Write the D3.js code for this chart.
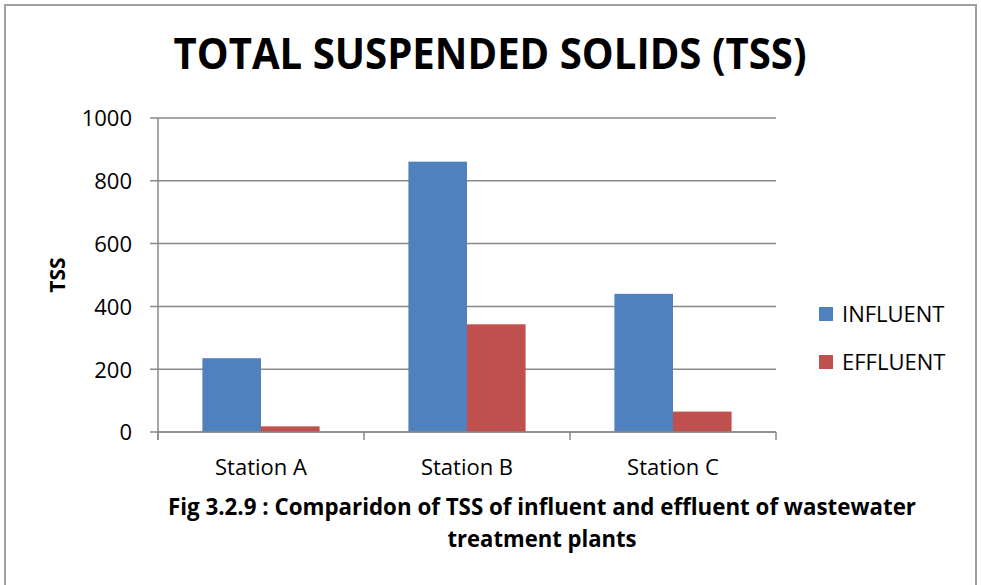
<!DOCTYPE html>
<html lang="en">
<head>
<meta charset="UTF-8">
<title>Total Suspended Solids (TSS)</title>
<script src="https://d3js.org/d3.v7.min.js"></script>
<style>
  body { margin: 0; background: #fff; }
  svg text { font-family: "Open Sans", sans-serif; fill: #000; }
</style>
</head>
<body>
<svg width="981" height="585"></svg>
<script>
// data
const stations = ["Station A", "Station B", "Station C"];
const seriesNames = ["INFLUENT", "EFFLUENT"];
const influent = [235, 861, 440];
const effluent = [18, 343, 65];
const yTicks = [0, 200, 400, 600, 800, 1000];
const colors = ["#4F81BD", "#C0504D"];

const svg = d3.select("svg");
const axisGrey = "#898989";

// outer frame
svg.append("rect")
    .attr("x", 5).attr("y", 5)
    .attr("width", 971).attr("height", 585)
    .attr("fill", "none")
    .attr("stroke", "#a0a0a0")
    .attr("stroke-width", 2);

// scales
const x = d3.scaleBand().domain(stations).range([158, 776]);
const xs = d3.scaleBand().domain(seriesNames).range([0, x.bandwidth()]).paddingOuter(0.758);
const y = d3.scaleLinear().domain([0, 1000]).range([432, 118]);

// gridlines
svg.append("g")
    .selectAll("line")
    .data(yTicks)
    .enter()
    .append("line")
    .attr("x1", 150).attr("x2", 776)
    .attr("y1", d => y(d)).attr("y2", d => y(d))
    .attr("stroke", axisGrey)
    .attr("stroke-width", 1.5);

// y axis
const yAxis = svg.append("g")
    .attr("transform", "translate(158,0)")
    .call(d3.axisLeft(y).tickValues(yTicks).tickFormat(d3.format("d")).tickSize(8).tickPadding(18));
yAxis.select(".domain").remove();
yAxis.selectAll("line").remove();
yAxis.selectAll("text")
    .style("font-size", "22px")
    .attr("dy", "0.36em");

svg.append("line")
    .attr("x1", 158).attr("x2", 158)
    .attr("y1", y(1000)).attr("y2", 440)
    .attr("stroke", axisGrey).attr("stroke-width", 1.5);

// bars
const data = stations.map((s, i) => ({ station: s, values: [influent[i], effluent[i]] }));
const groups = svg.append("g")
    .selectAll("g")
    .data(data)
    .enter()
    .append("g")
    .attr("transform", d => "translate(" + x(d.station) + ",0)");

groups.selectAll("rect")
    .data(d => d.values.map((v, j) => ({ key: seriesNames[j], value: v, j: j })))
    .enter()
    .append("rect")
    .attr("x", d => xs(d.key))
    .attr("width", xs.bandwidth())
    .attr("y", d => y(d.value))
    .attr("height", d => y(0) - y(d.value))
    .attr("fill", d => colors[d.j]);

// x axis line and boundary ticks
svg.append("line")
    .attr("x1", 158).attr("x2", 776)
    .attr("y1", y(0)).attr("y2", y(0))
    .attr("stroke", axisGrey).attr("stroke-width", 1.5);

const bounds = stations.map(s => x(s)).concat([x(stations[2]) + x.bandwidth()]);
svg.append("g")
    .selectAll("line")
    .data(bounds)
    .enter()
    .append("line")
    .attr("x1", d => d).attr("x2", d => d)
    .attr("y1", y(0)).attr("y2", 440)
    .attr("stroke", axisGrey).attr("stroke-width", 1.5);

// station labels
svg.append("g")
    .selectAll("text")
    .data(stations)
    .enter()
    .append("text")
    .attr("x", d => x(d) + x.bandwidth() / 2)
    .attr("y", 475)
    .attr("text-anchor", "middle")
    .style("font-size", "22px")
    .text(d => d);

// y axis title
svg.append("text")
    .attr("transform", "translate(65,275) rotate(-90)")
    .attr("text-anchor", "middle")
    .style("font-size", "21px")
    .style("font-weight", "bold")
    .text("TSS");

// chart title
svg.append("text")
    .attr("x", 490)
    .attr("y", 69)
    .attr("text-anchor", "middle")
    .attr("textLength", 633)
    .attr("lengthAdjust", "spacingAndGlyphs")
    .style("font-size", "43px")
    .style("font-weight", "bold")
    .text("TOTAL SUSPENDED SOLIDS (TSS)");

// legend
const legend = svg.append("g")
    .selectAll("g")
    .data(seriesNames)
    .enter()
    .append("g")
    .attr("transform", (d, i) => "translate(819," + (307 + i * 48) + ")");

legend.append("rect")
    .attr("width", 14).attr("height", 14)
    .attr("fill", (d, i) => colors[i]);

legend.append("text")
    .attr("x", 23)
    .attr("y", 15)
    .style("font-size", "22px")
    .text(d => d);

// caption
const caption = [
    "Fig 3.2.9 : Comparidon of TSS of influent and effluent of wastewater",
    "treatment plants"
];
svg.append("g")
    .selectAll("text")
    .data(caption)
    .enter()
    .append("text")
    .attr("x", 542)
    .attr("y", (d, i) => 515 + i * 32)
    .attr("text-anchor", "middle")
    .attr("textLength", (d, i) => i == 0 ? 748 : 189)
    .attr("lengthAdjust", "spacingAndGlyphs")
    .style("font-size", "24px")
    .style("font-weight", "bold")
    .text(d => d);
</script>
</body>
</html>
